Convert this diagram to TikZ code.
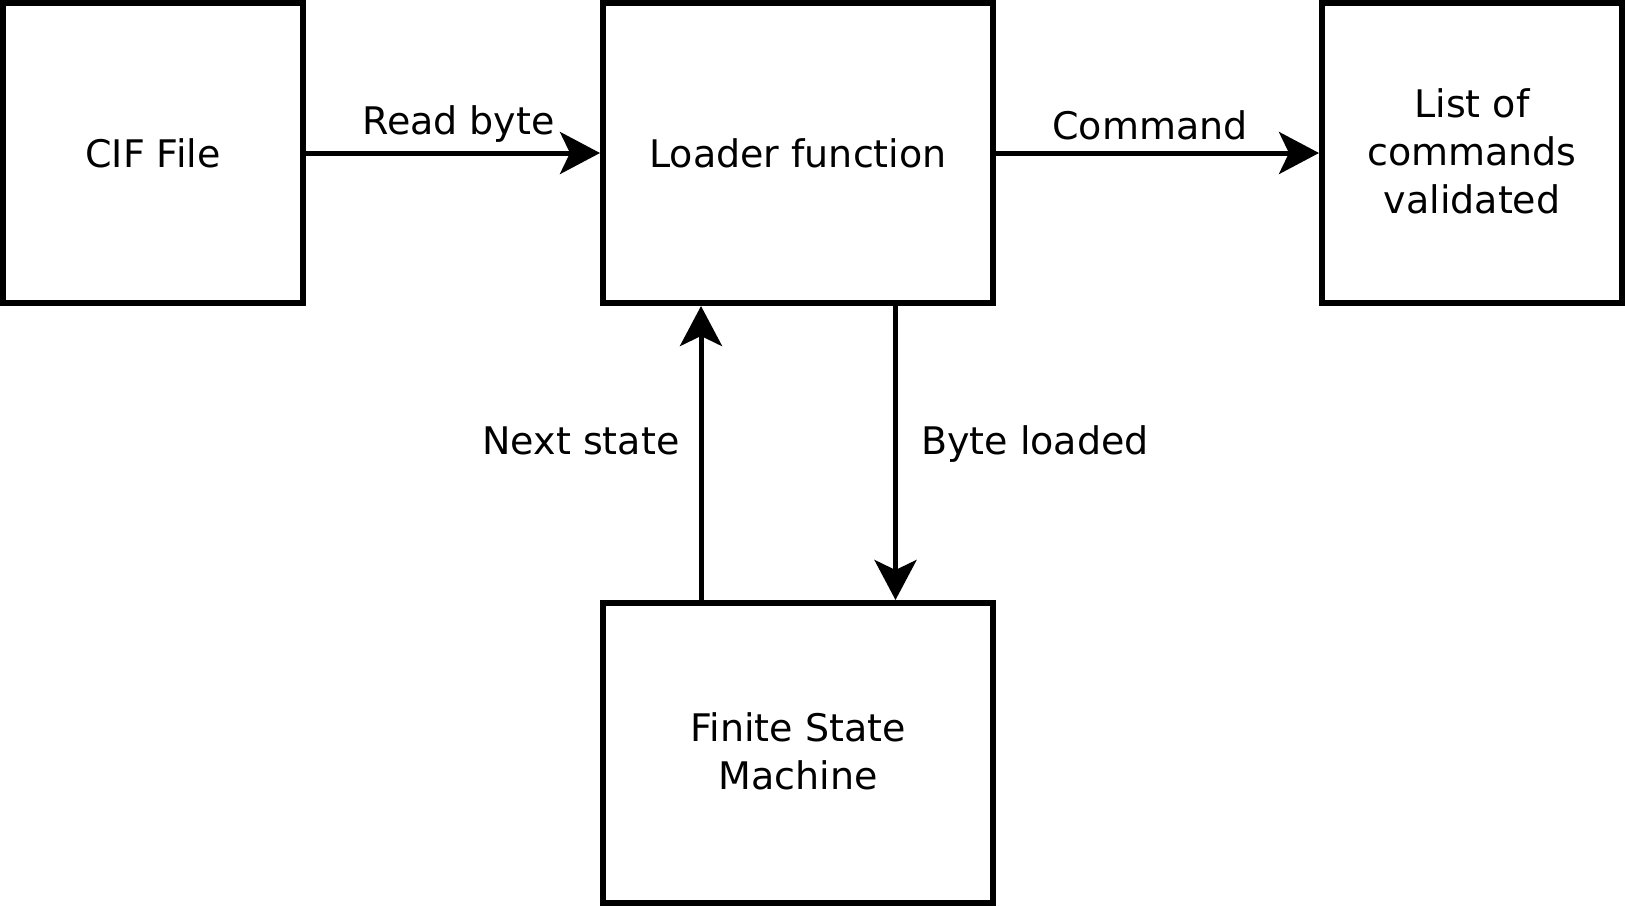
\documentclass[tikz,border=0pt]{standalone}
\usepackage{fontspec}
\setmainfont{DejaVu Sans}
\usetikzlibrary{arrows.meta}
\newcommand\lblfont{\fontsize{38}{48}\selectfont}
\begin{document}
\begin{tikzpicture}[x=1pt,y=-1pt,
  block/.style={draw=black, line width=6pt, inner sep=0pt, align=center, font=\lblfont, minimum height=300pt},
  lab/.style={anchor=base, inner sep=0pt, font=\lblfont},
  conn/.style={line width=5pt, -{Stealth[length=40pt,width=42pt,inset=10pt]}}]
\useasboundingbox (0,0) rectangle (1625,906);
\node[block, minimum width=300pt] (cif) at (153,153) {CIF File};
\node[block, minimum width=390pt] (loader) at (798,153) {Loader function};
\node[block, minimum width=300pt, text depth=4pt] (list) at (1472,153) {List of\\commands\\validated};
\node[block, minimum width=390pt, minimum height=300pt, text depth=4pt] (fsm) at (798,753) {Finite State\\Machine};
\coordinate (xl) at (701,0);
\coordinate (xr) at (895.5,0);
\draw[conn] (cif) -- (loader);
\draw[conn] (loader) -- (list);
\draw[conn] (fsm.north -| xl) -- (loader.south -| xl);
\draw[conn] (loader.south -| xr) -- (fsm.north -| xr);
\node[lab] (rb) at (458.5,134) {Read byte};
\node[lab] (cmd) at (1150,139) {Command};
\node[lab] (ns) at (581,454) {Next state};
\node[lab] (bl) at (1035,454) {Byte loaded};
\end{tikzpicture}
\end{document}
